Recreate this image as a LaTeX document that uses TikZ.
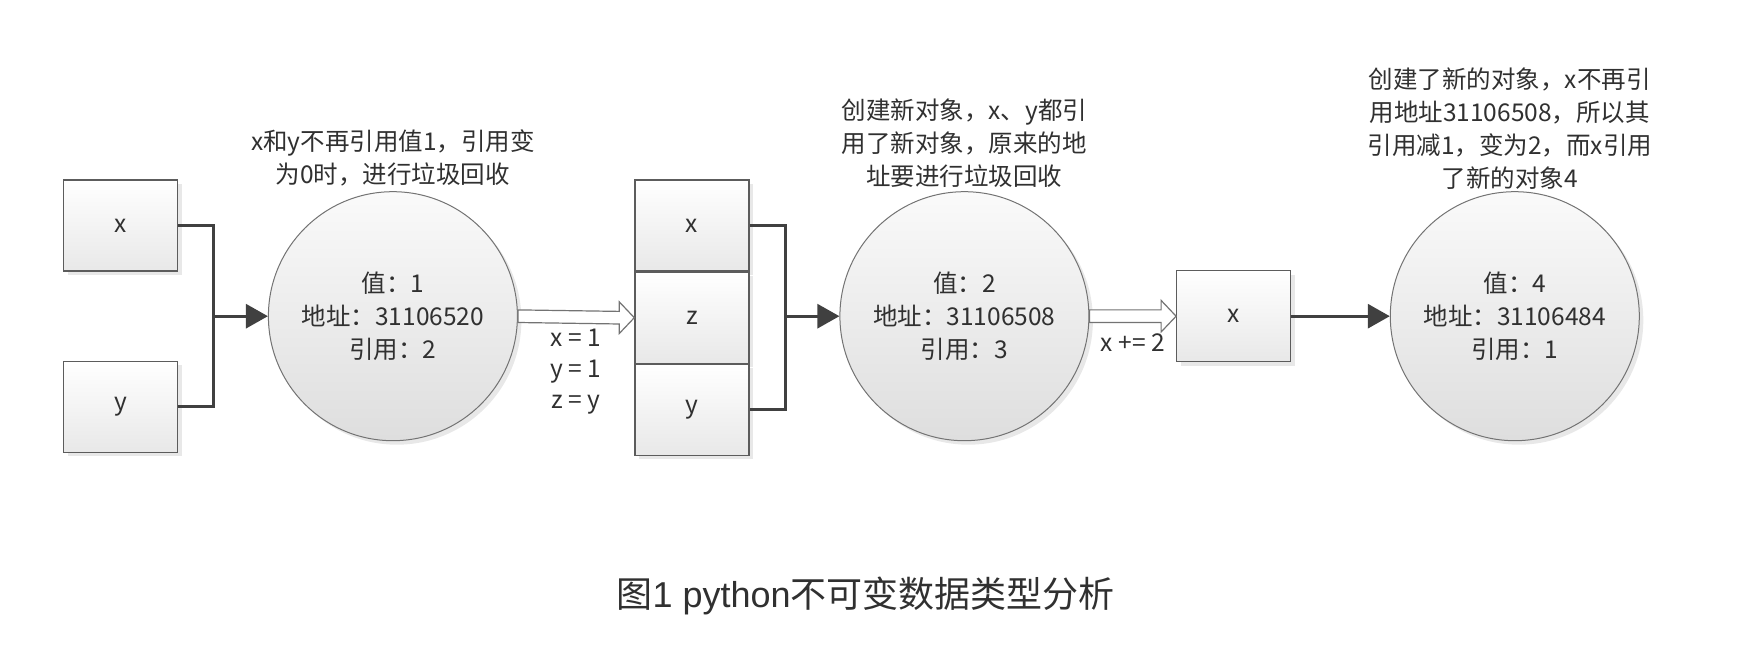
\documentclass[tikz,border=0pt]{standalone}
\usepackage{fontspec}
\setmainfont{Noto Sans CJK SC}
\newfontfamily\latinfont{Liberation Sans}
\usepackage{tikz}
\usetikzlibrary{calc,positioning,shapes,arrows.meta,shadows}

\definecolor{txtcol}{HTML}{303030}
\definecolor{linecol}{HTML}{404040}
\definecolor{edgecol}{HTML}{5C5C5C}

\tikzset{
  var/.style={draw=edgecol,line width=1.2bp,top color=white,bottom color=black!9,
    minimum width=114bp,minimum height=91bp,inner sep=0pt,text=txtcol,
    drop shadow={shadow xshift=4bp,shadow yshift=-4bp,fill=black!9,opacity=1}},
  obj/.style={circle,draw=black!55,line width=1bp,minimum size=249bp,inner sep=0pt,
    top color=black!2,bottom color=black!13,text=txtcol,align=center,
    drop shadow={shadow xshift=4bp,shadow yshift=-4bp,fill=black!9,opacity=1}},
  ref/.style={draw=linecol,line width=3bp},
  hollow/.style={draw=black!55,line width=1.2bp,fill=white,line join=miter},
  note/.style={text=txtcol,align=center,inner sep=0pt},
}

\begin{document}
\begin{tikzpicture}[>=latex,line join=miter,font=\fontsize{24.5bp}{33bp}\selectfont]
\useasboundingbox (0bp,0bp) rectangle (1738bp,648bp);
%%
\node (x1) at (120.5bp,422.5bp) [var] {x};
  \node (y1) at (120.5bp,241.0bp) [var] {y};
  \node (obj1) at (392.9bp,331.8bp) [obj] {值：1\\地址：31106520\\引用：2};
  \node (x2) at (691.9bp,422.5bp) [var] {x};
  \node (z2) [var,below=0bp of x2] {z};
  \node (y2) [var,below=0bp of z2] {y};
  \node (obj2) at (964.4bp,331.8bp) [obj] {值：2\\地址：31106508\\引用：3};
  \node (x3) at (1233.7bp,331.8bp) [var] {x};
  \node (obj4) at (1514.8bp,331.8bp) [obj] {值：4\\地址：31106484\\引用：1};
  \node (note1) [note,above=5bp of obj1] {x和y不再引用值1，引用变\\为0时，进行垃圾回收};
  \node (note2) [note,above=3bp of obj2] {创建新对象，x、y都引\\用了新对象，原来的地\\址要进行垃圾回收};
  \node (note4) [note,above=2bp of obj4,xshift=-5bp] {创建了新的对象，x不再引\\用地址31106508，所以其\\引用减1，变为2，而x引用\\了新的对象4};
  \coordinate (j1) at ($(x1.east)+(35.5bp,0)$);
  \coordinate (j2) at ($(x2.east)+(35.5bp,0)$);
  \coordinate (m1) at ($(obj1.east)!0.5!(z2.west)$);
  \coordinate (m2) at ($(obj2.east)!0.5!(x3.west)$);
  \draw [ref] (x1.east) -- (j1) |- (y1.east);
  \draw [ref,-{Triangle[length=22bp,width=24bp]}] (j1 |- obj1) -- (obj1);
  \draw [ref] (x2.east) -- (j2) |- (y2.east);
  \draw [ref,-{Triangle[length=22bp,width=24bp]}] (j2 |- obj2) -- (obj2);
  \draw [ref,-{Triangle[length=22bp,width=24bp]}] (x3) -- (obj4);
  \draw [hollow] ($(obj1.east)+(0,6.3bp)$) -- ($(z2.west)+(-15bp,6.3bp)$) -- ++(0,9.5bp) -- (z2.west)
    -- ($(z2.west)+(-15bp,-15.8bp)$) -- ++(0,9.5bp) -- ($(obj1.east)+(0,-6.3bp)$) -- cycle;
  \draw [hollow] ($(obj2.east)+(0,6.3bp)$) -- ($(x3.west)+(-15bp,6.3bp)$) -- ++(0,9.5bp) -- (x3.west)
    -- ($(x3.west)+(-15bp,-15.8bp)$) -- ++(0,9.5bp) -- ($(obj2.east)+(0,-6.3bp)$) -- cycle;
  \node (op1) [note,below=12bp of m1,font=\fontsize{24.5bp}{31bp}\selectfont] {x = 1\\y = 1\\z = y};
  \node (op2) [note,below=17bp of m2] {x += 2};
  \node (cap) at (865.6bp,52bp) [text=txtcol,font=\fontsize{36bp}{42bp}\selectfont] {图{\latinfont 1 python}不可变数据类型分析};
%
\end{tikzpicture}
\end{document}
